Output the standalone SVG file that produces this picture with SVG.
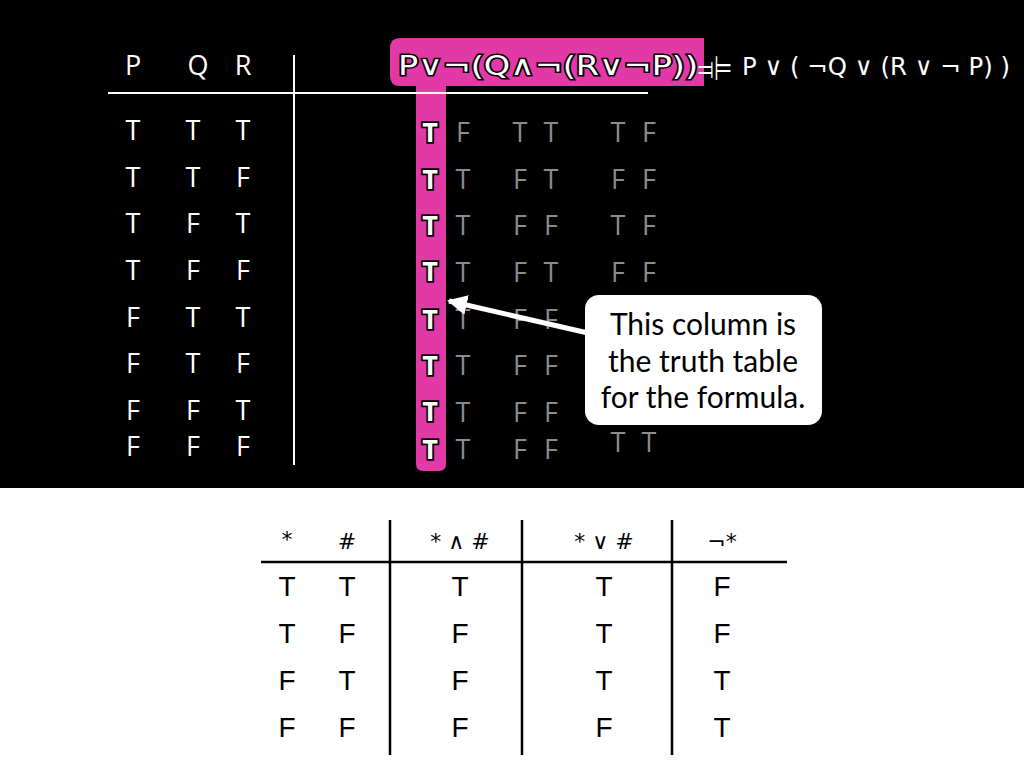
<svg xmlns="http://www.w3.org/2000/svg" width="1024" height="768" viewBox="0 0 1024 768">
<defs>
<style>
.w{fill:#fff;font-family:"Open Sans","Liberation Sans",sans-serif;font-size:27px;text-anchor:middle}
.g{fill:#8c8c8c;font-family:"Open Sans","Liberation Sans",sans-serif;font-size:27px;text-anchor:middle}
.pt{fill:#fff;stroke:#000;stroke-width:3.5;paint-order:stroke;font-family:"Open Sans","Liberation Sans",sans-serif;font-weight:bold;font-size:27px;text-anchor:middle}
.b{fill:#000;font-family:"Liberation Sans",Arial,sans-serif;font-size:28px;text-anchor:middle}
.bh{fill:#000;font-family:"DejaVu Sans","Liberation Sans",sans-serif;font-size:22px;text-anchor:middle}
.cl{fill:#000;font-family:Lato,"Open Sans",sans-serif;font-size:30px;text-anchor:middle}
</style>
<marker id="ah" viewBox="0 0 10 10" refX="9" refY="5" markerWidth="4" markerHeight="4" orient="auto" markerUnits="strokeWidth">
<path d="M0,0 L10,5 L0,10 z" fill="#fff"/>
</marker>
</defs>
<rect x="0" y="0" width="1024" height="768" fill="#fff"/>
<rect x="0" y="0" width="1024" height="488" fill="#000"/>

<g id="pink-highlight">
<path d="M400,38 H704 V86 H446 V464 Q446,471 439,471 H423 Q416,471 416,464 V86 H400 Q390,86 390,76 V48 Q390,38 400,38 Z" fill="#e13aa6"/>
</g>

<g id="top-table-lines" stroke="#fff" stroke-width="2">
<line x1="108" y1="93" x2="648" y2="93"/>
<line x1="294" y1="55" x2="294" y2="465"/>
</g>

<g id="left-table">
<text class="w" font-size="26" x="133" y="75">P</text>
<text class="w" font-size="26" x="198" y="75">Q</text>
<text class="w" font-size="26" x="243" y="75">R</text>
<text class="w" x="133" y="140">T</text><text class="w" x="193" y="140">T</text><text class="w" x="243" y="140">T</text>
<text class="w" x="133" y="187">T</text><text class="w" x="193" y="187">T</text><text class="w" x="243" y="187">F</text>
<text class="w" x="133" y="233">T</text><text class="w" x="193" y="233">F</text><text class="w" x="243" y="233">T</text>
<text class="w" x="133" y="280">T</text><text class="w" x="193" y="280">F</text><text class="w" x="243" y="280">F</text>
<text class="w" x="133" y="327">F</text><text class="w" x="193" y="327">T</text><text class="w" x="243" y="327">T</text>
<text class="w" x="133" y="373">F</text><text class="w" x="193" y="373">T</text><text class="w" x="243" y="373">F</text>
<text class="w" x="133" y="420">F</text><text class="w" x="193" y="420">F</text><text class="w" x="243" y="420">T</text>
<text class="w" x="133" y="456">F</text><text class="w" x="193" y="456">F</text><text class="w" x="243" y="456">F</text>
</g>

<g id="formula">
<text x="398" y="75" textLength="300" lengthAdjust="spacingAndGlyphs" fill="#fff" stroke="#000" stroke-width="3" paint-order="stroke" font-family="'DejaVu Sans',sans-serif" font-size="27">P∨¬(Q∧¬(R∨¬P))</text>
<text x="698" y="80" textLength="34" lengthAdjust="spacingAndGlyphs" fill="#fff" font-family="'DejaVu Sans',sans-serif" font-size="34">⫤⊨</text>
<text x="742" y="75" textLength="268" lengthAdjust="spacingAndGlyphs" fill="#fff" font-family="'DejaVu Sans',sans-serif" font-size="25">P ∨ ( ¬Q ∨ (R ∨ ¬ P) )</text>
</g>

<g id="pink-column">
<text class="pt" x="430" y="142">T</text>
<text class="pt" x="430" y="189">T</text>
<text class="pt" x="430" y="235">T</text>
<text class="pt" x="430" y="281">T</text>
<text class="pt" x="430" y="329">T</text>
<text class="pt" x="430" y="375">T</text>
<text class="pt" x="430" y="421">T</text>
<text class="pt" x="430" y="459">T</text>
</g>

<g id="gray-columns">
<text class="g" x="463" y="142">F</text><text class="g" x="520" y="142">T</text><text class="g" x="551" y="142">T</text><text class="g" x="618" y="142">T</text><text class="g" x="649" y="142">F</text>
<text class="g" x="463" y="189">T</text><text class="g" x="520" y="189">F</text><text class="g" x="551" y="189">T</text><text class="g" x="618" y="189">F</text><text class="g" x="649" y="189">F</text>
<text class="g" x="463" y="235">T</text><text class="g" x="520" y="235">F</text><text class="g" x="551" y="235">F</text><text class="g" x="618" y="235">T</text><text class="g" x="649" y="235">F</text>
<text class="g" x="463" y="282">T</text><text class="g" x="520" y="282">F</text><text class="g" x="551" y="282">T</text><text class="g" x="618" y="282">F</text><text class="g" x="649" y="282">F</text>
<text class="g" x="463" y="329">T</text><text class="g" x="520" y="329">F</text><text class="g" x="551" y="329">F</text>
<text class="g" x="463" y="375">T</text><text class="g" x="520" y="375">F</text><text class="g" x="551" y="375">F</text>
<text class="g" x="463" y="422">T</text><text class="g" x="520" y="422">F</text><text class="g" x="551" y="422">F</text>
<text class="g" x="463" y="459">T</text><text class="g" x="520" y="459">F</text><text class="g" x="551" y="459">F</text><text class="g" x="618" y="452">T</text><text class="g" x="649" y="452">T</text>
</g>

<g id="connectors">
<line x1="588" y1="333" x2="449" y2="301" stroke="#fff" stroke-width="5" marker-end="url(#ah)"/>
</g>

<g id="callout">
<rect x="585" y="295" width="237" height="130" rx="14" fill="#fff"/>
<text class="cl" x="703" y="335">This column is</text>
<text class="cl" x="703" y="372">the truth table</text>
<text class="cl" x="703" y="408">for the formula.</text>
</g>

<g id="bottom-table">
<g stroke="#000" stroke-width="2.5">
<line x1="261" y1="562" x2="787" y2="562"/>
<line x1="390" y1="520" x2="390" y2="755"/>
<line x1="522" y1="520" x2="522" y2="755"/>
<line x1="672" y1="520" x2="672" y2="755"/>
</g>
<text class="bh" x="287" y="547">*</text>
<text class="bh" x="347" y="549">#</text>
<text class="bh" x="460" y="549">* ∧ #</text>
<text class="bh" x="604" y="549">* ∨ #</text>
<text class="bh" x="722" y="549">¬*</text>
<text class="b" x="287" y="596">T</text><text class="b" x="347" y="596">T</text><text class="b" x="460" y="596">T</text><text class="b" x="604" y="596">T</text><text class="b" x="722" y="596">F</text>
<text class="b" x="287" y="643">T</text><text class="b" x="347" y="643">F</text><text class="b" x="460" y="643">F</text><text class="b" x="604" y="643">T</text><text class="b" x="722" y="643">F</text>
<text class="b" x="287" y="690">F</text><text class="b" x="347" y="690">T</text><text class="b" x="460" y="690">F</text><text class="b" x="604" y="690">T</text><text class="b" x="722" y="690">T</text>
<text class="b" x="287" y="737">F</text><text class="b" x="347" y="737">F</text><text class="b" x="460" y="737">F</text><text class="b" x="604" y="737">F</text><text class="b" x="722" y="737">T</text>
</g>
</svg>
